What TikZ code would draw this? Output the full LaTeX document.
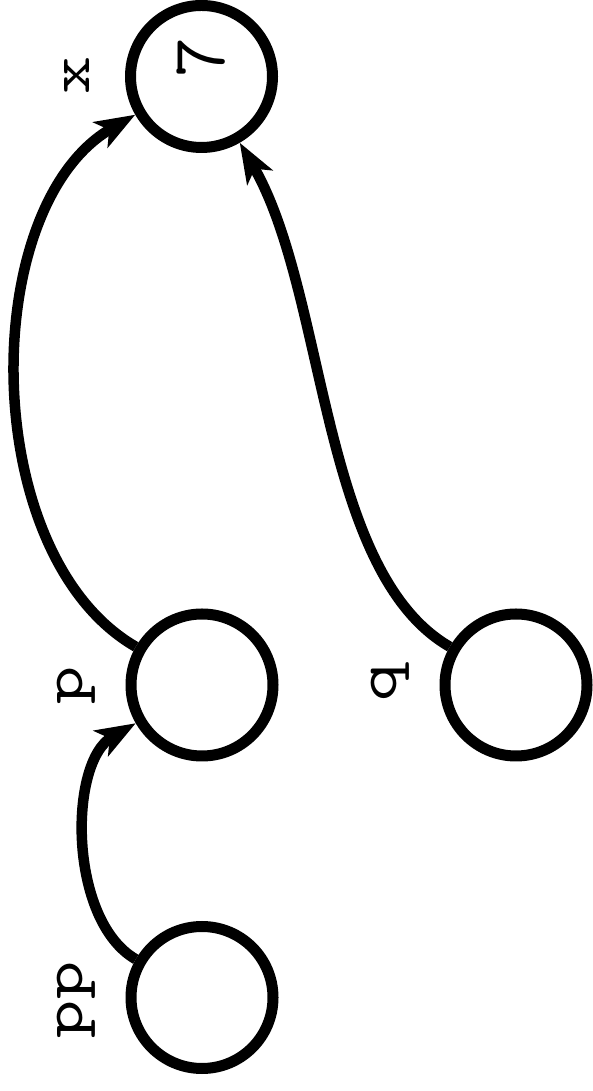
\documentclass[tikz,border=0pt]{standalone}
\usepackage{graphicx}
\usetikzlibrary{arrows.meta}
\newcommand{\wide}[1]{\scalebox{1.25}[1]{#1}}
\begin{document}
\begin{tikzpicture}[x=1pt,y=1pt,
  vertex/.style={circle, draw=black, line width=11pt, minimum size=142pt, inner sep=0pt},
  lbl/.style={inner sep=0pt, rotate=90, scale=5.8, font=\fontsize{10}{12}\ttfamily},
  val/.style={inner sep=0pt, rotate=90, scale=7.6, font=\fontsize{10}{12}\ttfamily},
  edge/.style={line width=10.5pt, -{Stealth[length=40pt,width=29pt,inset=10pt]}},
]
\useasboundingbox (0,0) rectangle (593,1091);
\node[vertex] (x)  at (201.5,1014.5) {};
\node[vertex] (p)  at (202,406) {};
\node[vertex] (pp) at (202,93.5) {};
\node[vertex] (q)  at (516,406) {};
\node[val] (seven) at (201,1033) {7};
\node[lbl] (lx)  at (76.5,1015.5) {\wide{x}};
\node[lbl] (lp)  at (76.5,405.5) {\wide{p}};
\node[lbl] (lq)  at (390,408.5) {\wide{q}};
\node[lbl] (lpp) at (76.5,91) {\wide{pp}};
\draw[edge] (p.150) .. controls +(150:183) and +(210:183) .. (x.210);
\draw[edge] (q.150) .. controls +(150:150) and +(300:175) .. (x.300);
\draw[edge] (pp.150) .. controls +(150:78) and +(210:78) .. (p.210);
\end{tikzpicture}
\end{document}
